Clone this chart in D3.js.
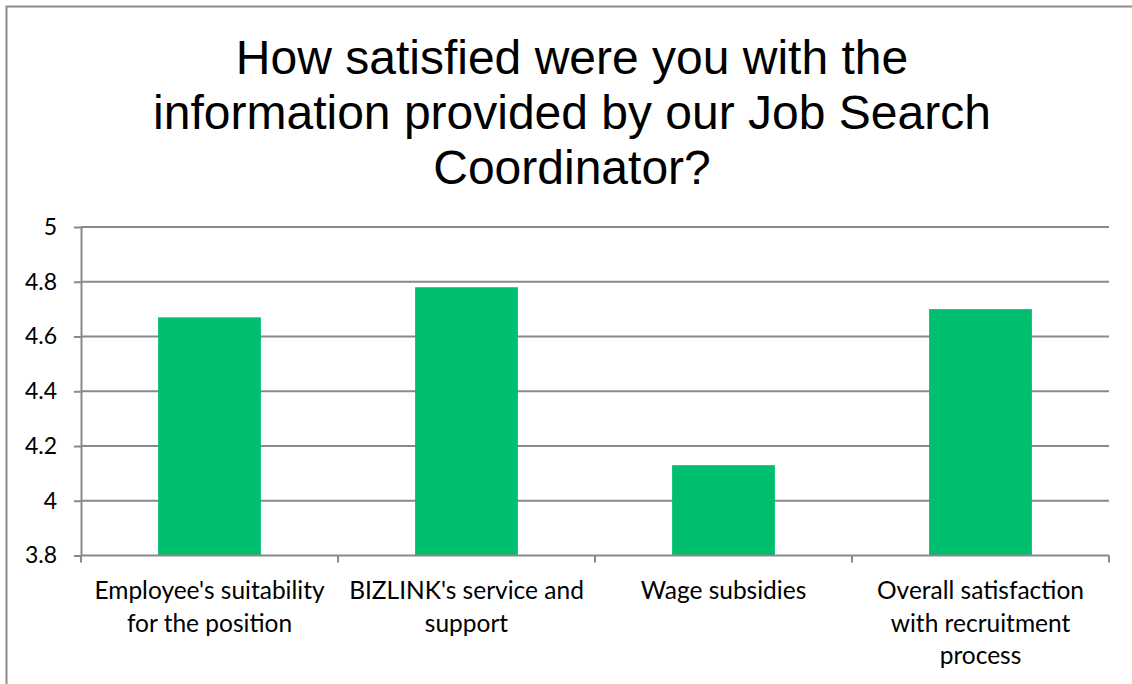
<!DOCTYPE html>
<html>
<head>
<meta charset="utf-8">
<script src="https://cdn.jsdelivr.net/npm/d3@7"></script>
<style>
  html, body { margin: 0; padding: 0; background: #fff; }
  svg { display: block; }
</style>
</head>
<body>
<svg id="chart" width="1132" height="684"></svg>
<script>
// Survey question and results
const titleLines = [
  "How satisfied were you with the",
  "information provided by our Job Search",
  "Coordinator?"
];
const categories = [
  "Employee's suitability for the position",
  "BIZLINK's service and support",
  "Wage subsidies",
  "Overall satisfaction with recruitment process"
];
const scores = [4.67, 4.78, 4.13, 4.70];
const yTicks = [3.8, 4, 4.2, 4.4, 4.6, 4.8, 5];
const yDomain = [3.8, 5];

const svg = d3.select("#chart");
const W = 1132, H = 684;
const plot = { left: 81, right: 1109, top: 227, bottom: 555.5 };

const gridColor = "#898989";
const barColor = "#00BF6F";
const labelFont = "Lato, 'Open Sans', sans-serif";
const labelSize = 24.5;

// outer chart frame
svg.append("rect")
  .attr("x", 6.5).attr("y", 6.5)
  .attr("width", W + 20).attr("height", H + 20)
  .attr("fill", "#fff")
  .attr("stroke", "#8c8c8c").attr("stroke-width", 2);

// title
svg.append("text")
  .attr("text-anchor", "middle")
  .attr("font-family", "'Liberation Sans', Arial, sans-serif")
  .attr("font-size", 48)
  .attr("fill", "#000")
  .selectAll("tspan")
  .data(titleLines)
  .join("tspan")
  .attr("x", 572)
  .attr("y", (d, i) => 74 + i * 55)
  .text(d => d);

const x = d3.scaleBand()
  .domain(categories)
  .range([plot.left, plot.right])
  .paddingInner(0.6)
  .paddingOuter(0.3);

const y = d3.scaleLinear()
  .domain(yDomain)
  .range([plot.bottom, plot.top]);

// horizontal gridlines
svg.append("g")
  .selectAll("line")
  .data(yTicks.filter(t => t > yDomain[0]))
  .join("line")
  .attr("x1", plot.left).attr("x2", plot.right)
  .attr("y1", d => y(d)).attr("y2", d => y(d))
  .attr("stroke", gridColor).attr("stroke-width", 2);

// bars
svg.append("g")
  .selectAll("rect")
  .data(categories)
  .join("rect")
  .attr("x", d => x(d))
  .attr("width", x.bandwidth())
  .attr("y", (d, i) => y(scores[i]))
  .attr("height", (d, i) => y(yDomain[0]) - y(scores[i]))
  .attr("fill", barColor);

// y axis
const yAxis = svg.append("g")
  .attr("transform", `translate(${plot.left},0)`)
  .call(d3.axisLeft(y).tickValues(yTicks).tickSize(7).tickSizeOuter(0).tickPadding(17)
    .tickFormat(d3.format("")));
yAxis.select(".domain").attr("stroke", gridColor).attr("stroke-width", 2);
yAxis.selectAll(".tick line").attr("stroke", gridColor).attr("stroke-width", 2);
yAxis.selectAll(".tick text")
  .attr("font-family", labelFont).attr("font-size", 23).attr("fill", "#000");

// x axis line with category boundary ticks
const step = x.step();
const bounds = d3.range(categories.length + 1).map(i => plot.left + i * (plot.right - plot.left) / categories.length);
svg.append("line")
  .attr("x1", plot.left).attr("x2", plot.right)
  .attr("y1", plot.bottom).attr("y2", plot.bottom)
  .attr("stroke", gridColor).attr("stroke-width", 2);
svg.append("g")
  .selectAll("line")
  .data(bounds)
  .join("line")
  .attr("x1", d => d).attr("x2", d => d)
  .attr("y1", plot.bottom).attr("y2", plot.bottom + 7)
  .attr("stroke", gridColor).attr("stroke-width", 2);

// wrapped category labels
const measure = svg.append("text")
  .attr("font-family", labelFont).attr("font-size", labelSize).attr("visibility", "hidden");
function wrap(label, maxW) {
  const words = label.split(" ");
  const lines = [];
  let cur = "";
  words.forEach(w => {
    const trial = cur ? cur + " " + w : w;
    measure.text(trial);
    if (cur && measure.node().getComputedTextLength() > maxW) {
      lines.push(cur);
      cur = w;
    } else {
      cur = trial;
    }
  });
  if (cur) lines.push(cur);
  return lines;
}

const labels = svg.append("g")
  .selectAll("text")
  .data(categories)
  .join("text")
  .attr("text-anchor", "middle")
  .attr("font-family", labelFont).attr("font-size", labelSize).attr("fill", "#000");
labels.each(function (d) {
  const cx = x(d) + x.bandwidth() / 2;
  d3.select(this).selectAll("tspan")
    .data(wrap(d, step - 12))
    .join("tspan")
    .attr("x", cx)
    .attr("y", (l, i) => 599 + i * 32.5)
    .text(l => l);
});
measure.remove();
</script>
</body>
</html>
